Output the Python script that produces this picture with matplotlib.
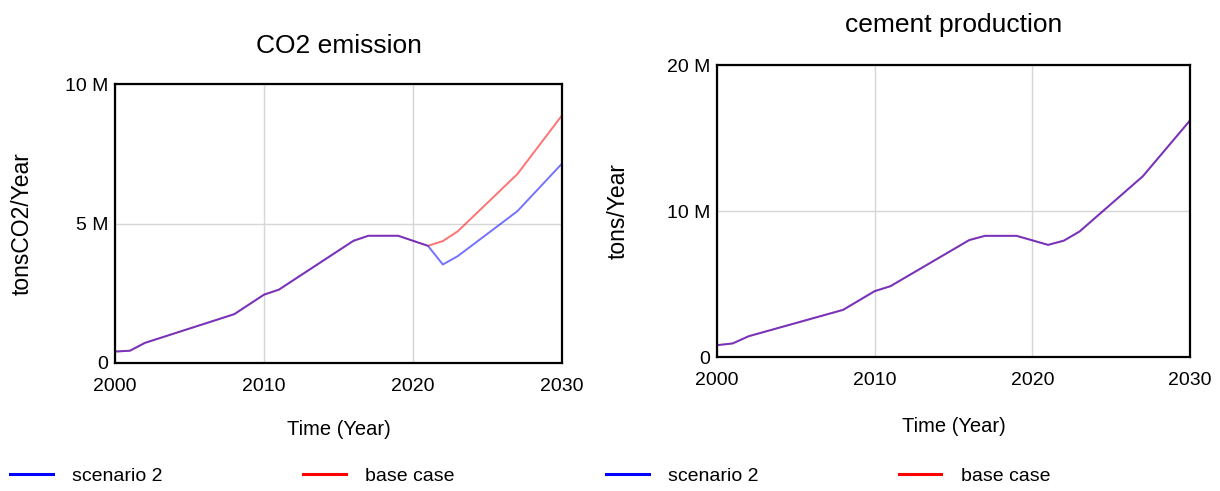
import matplotlib
matplotlib.use("Agg")
import matplotlib.pyplot as plt
from matplotlib.lines import Line2D
from matplotlib.ticker import FuncFormatter

plt.rcParams["font.family"] = ["Liberation Sans", "DejaVu Sans"]

# simulation output, values in millions
years = [2000, 2001, 2002, 2008, 2010, 2011, 2016, 2017, 2019, 2021, 2022, 2023, 2027, 2030]
co2_base = [0.41, 0.44, 0.72, 1.75, 2.45, 2.63, 4.38, 4.56, 4.56, 4.20, 4.37, 4.72, 6.77, 8.88]
co2_scenario2 = [0.41, 0.44, 0.72, 1.75, 2.45, 2.63, 4.38, 4.56, 4.56, 4.20, 3.53, 3.83, 5.44, 7.15]
cement_base = [0.81, 0.93, 1.42, 3.23, 4.51, 4.85, 8.01, 8.30, 8.30, 7.68, 7.97, 8.60, 12.37, 16.20]
cement_scenario2 = [0.81, 0.93, 1.42, 3.23, 4.51, 4.85, 8.01, 8.30, 8.30, 7.68, 7.97, 8.60, 12.37, 16.20]

series_names = ["scenario 2", "base case"]
series_colors = ["#0000ff", "#ff0000"]


def m_fmt(v, _pos):
    return "0" if v == 0 else f"{v:g} M"


def panel(ax, base, scen, title, ylabel, ymax, title_pad, xlab_y, ylab_x):
    ax.plot(years, base, color=series_colors[1], lw=1.4, alpha=0.55, zorder=3)
    ax.plot(years, scen, color=series_colors[0], lw=1.4, alpha=0.55, zorder=4)
    ax.set_xlim(2000, 2030)
    ax.set_ylim(0, ymax)
    ax.set_xticks([2000, 2010, 2020, 2030])
    ax.set_yticks([0, ymax / 2, ymax])
    ax.yaxis.set_major_formatter(FuncFormatter(m_fmt))
    ax.tick_params(length=0, labelsize=14)
    ax.tick_params(axis="x", pad=11)
    ax.tick_params(axis="y", pad=5)
    ax.grid(True, color="#d6d6d6", lw=1.0, zorder=1)
    for s in ax.spines.values():
        s.set_linewidth(1.6)
        s.set_zorder(5)
    ax.set_title(title, fontsize=19, pad=title_pad)
    ax.set_xlabel("Time (Year)", fontsize=14.5)
    ax.set_ylabel(ylabel, fontsize=16.5)
    ax.xaxis.set_label_coords(0.5, xlab_y)
    ax.yaxis.set_label_coords(ylab_x, 0.5)


fig = plt.figure(figsize=(12.2, 4.91), dpi=100)
ax1 = fig.add_axes([0.0943, 0.2607, 0.3664, 0.5682])
ax2 = fig.add_axes([0.5877, 0.2729, 0.3877, 0.5947])

panel(ax1, co2_base, co2_scenario2, "CO2 emission", "tonsCO2/Year", 10, 22, -0.205, -0.182)
panel(ax2, cement_base, cement_scenario2, "cement production", "tons/Year", 20, 24, -0.205, -0.184)

handles = [Line2D([], [], color=c, lw=2.2) for c in series_colors]
for x0 in (0.0082, 0.4967):
    fig.legend(handles, series_names, loc="center left", bbox_to_anchor=(x0, 0.03),
               ncol=2, frameon=False, fontsize=14, handlelength=2.2,
               handletextpad=1.0, columnspacing=7.2, borderpad=0, borderaxespad=0)

fig.savefig("out.png", dpi=100, facecolor="white")
